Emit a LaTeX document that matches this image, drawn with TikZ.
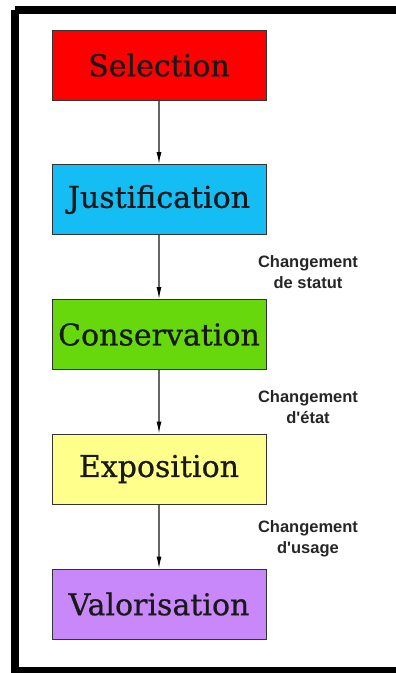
\documentclass[tikz,border=0pt]{standalone}
\usepackage{fontspec}
\setmainfont{DejaVu Serif}
\newfontfamily\stagefont{DejaVu Serif}[FakeBold=0.7]
\newfontfamily\notefont{Liberation Sans}
\usetikzlibrary{arrows.meta,positioning}

\definecolor{selred}{HTML}{FF0000}
\definecolor{justblue}{HTML}{14BEF5}
\definecolor{consgreen}{HTML}{66D80C}
\definecolor{expoyellow}{HTML}{FFFF8C}
\definecolor{valpurple}{HTML}{C888FA}

\begin{document}
\begin{tikzpicture}[x=1pt,y=-1pt,>={Latex[length=12pt,width=5pt,color=black]},
  stage/.style={draw=black!80,line width=1pt,minimum width=214pt,minimum height=70pt,
    inner sep=0pt,font=\stagefont\fontsize{30}{34}\selectfont,text=black!90},
  flow/.style={->,line width=1.1pt,draw=black!60},
  note/.style={align=center,font=\notefont\bfseries\fontsize{16.5}{21}\selectfont,text=black!85}]
  \useasboundingbox (0,0) rectangle (396,673);
  % outer frame, cut on the right
  \draw[line width=8pt] (15,10) -- (420,10) (15,10) -- (15,671) -- (420,671);
  \node[stage,fill=selred] (selection) at (159,65) {Selection};
  \node[stage,fill=justblue] (justification) at (159,199.5) {Justification};
  \node[stage,fill=consgreen] (conservation) at (159,334.5) {Conservation};
  \node[stage,fill=expoyellow] (exposition) at (159,469) {Exposition};
  \node[stage,fill=valpurple] (valorisation) at (159,604) {Valorisation};
  \draw[flow] (selection) -- (justification);
  \draw[flow] (justification) -- (conservation);
  \draw[flow] (conservation) -- (exposition);
  \draw[flow] (exposition) -- (valorisation);
  \node[note] (statut) at (308,272) {Changement\\de statut};
  \node[note] (etat) at (308,407) {Changement\\d'état};
  \node[note] (usage) at (308,539) {Changement\\d'usage};
\end{tikzpicture}
\end{document}
